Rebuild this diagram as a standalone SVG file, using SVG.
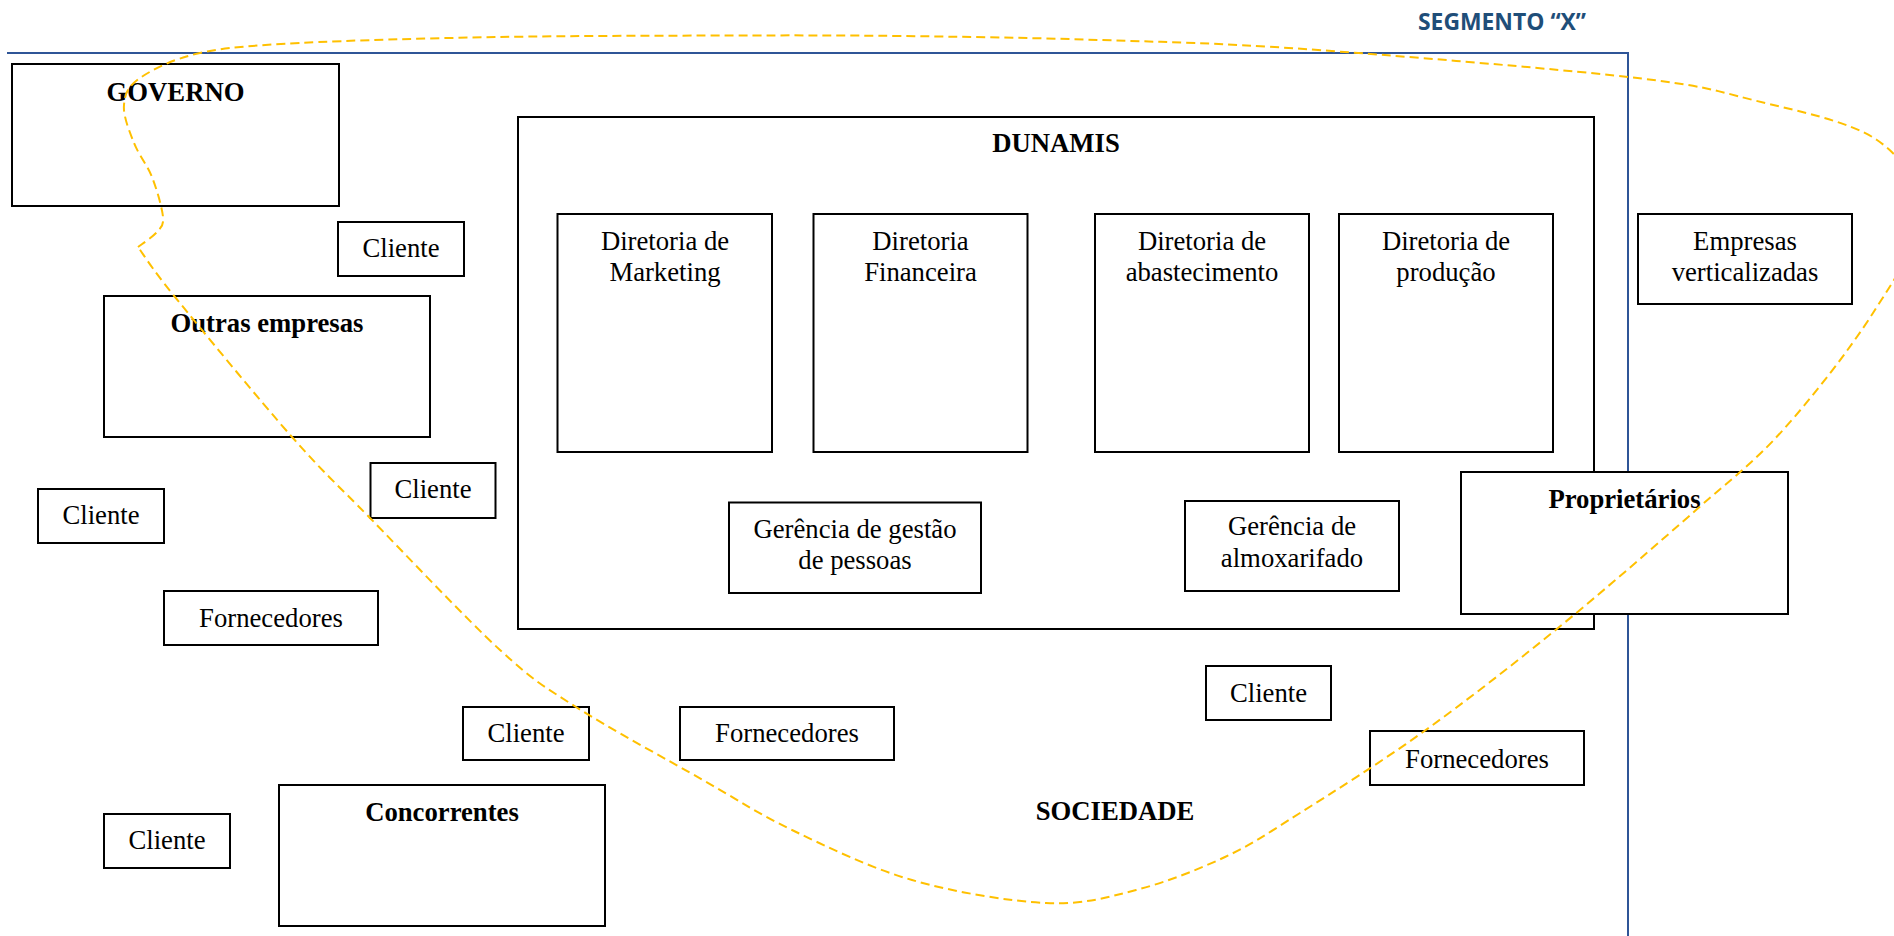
<svg xmlns="http://www.w3.org/2000/svg" width="1894" height="936" viewBox="0 0 1894 936">
  <style>
    .box { fill: #ffffff; stroke: #000000; stroke-width: 2; }
    .t { font-family: "Liberation Serif", "Times New Roman", serif; font-size: 26.7px; fill: #000000; text-anchor: middle; }
    .b { font-weight: bold; }
    .frame { fill: none; stroke: #2F5597; stroke-width: 2; }
    .seg-label { font-family: "Open Sans", "Liberation Sans", sans-serif; font-weight: bold; font-size: 23px; fill: #1F4E79; }
    .boundary { fill: none; stroke: #FFC000; stroke-width: 2; stroke-dasharray: 9 5; }
  </style>

  <rect width="1894" height="936" fill="#ffffff"/>

  <!-- segment frame -->
  <g id="segment-frame">
    <path class="frame" d="M7 53 H1628 V936"/>
    <text class="seg-label" x="1418" y="29.5" textLength="168" lengthAdjust="spacingAndGlyphs">SEGMENTO “X”</text>
  </g>

  <!-- company -->
  <g id="dunamis">
    <rect class="box" x="518" y="117" width="1076" height="512"/>
    <text class="t b" x="1056" y="152">DUNAMIS</text>
  </g>
  <g id="dir-marketing">
    <rect class="box" x="557.5" y="214" width="214.5" height="238"/>
    <text class="t" x="665" y="250">Diretoria de</text>
    <text class="t" x="665" y="281">Marketing</text>
  </g>
  <g id="dir-financeira">
    <rect class="box" x="813.5" y="214" width="214" height="238"/>
    <text class="t" x="920.5" y="250">Diretoria</text>
    <text class="t" x="920.5" y="281">Financeira</text>
  </g>
  <g id="dir-abastecimento">
    <rect class="box" x="1095" y="214" width="214" height="238"/>
    <text class="t" x="1202" y="250">Diretoria de</text>
    <text class="t" x="1202" y="281">abastecimento</text>
  </g>
  <g id="dir-producao">
    <rect class="box" x="1339" y="214" width="214" height="238"/>
    <text class="t" x="1446" y="250">Diretoria de</text>
    <text class="t" x="1446" y="281">produção</text>
  </g>
  <g id="ger-pessoas">
    <rect class="box" x="729" y="502.5" width="252" height="90.5"/>
    <text class="t" x="855" y="537.5">Gerência de gestão</text>
    <text class="t" x="855" y="568.5">de pessoas</text>
  </g>
  <g id="ger-almoxarifado">
    <rect class="box" x="1185" y="501" width="214" height="90"/>
    <text class="t" x="1292" y="535">Gerência de</text>
    <text class="t" x="1292" y="567">almoxarifado</text>
  </g>

  <!-- environment -->
  <g id="governo">
    <rect class="box" x="12" y="64" width="327" height="142"/>
    <text class="t b" x="175.5" y="101">GOVERNO</text>
  </g>
  <g id="cliente-1">
    <rect class="box" x="338" y="222" width="126" height="54"/>
    <text class="t" x="401" y="257">Cliente</text>
  </g>
  <g id="outras-empresas">
    <rect class="box" x="104" y="296" width="326" height="141"/>
    <text class="t b" x="267" y="332">Outras empresas</text>
  </g>
  <g id="cliente-2">
    <rect class="box" x="370.5" y="463" width="125" height="55"/>
    <text class="t" x="433" y="498">Cliente</text>
  </g>
  <g id="cliente-3">
    <rect class="box" x="38" y="489" width="126" height="54"/>
    <text class="t" x="101" y="524">Cliente</text>
  </g>
  <g id="fornecedores-1">
    <rect class="box" x="164" y="591" width="214" height="54"/>
    <text class="t" x="271" y="627">Fornecedores</text>
  </g>
  <g id="cliente-4">
    <rect class="box" x="463" y="707" width="126" height="53"/>
    <text class="t" x="526" y="742">Cliente</text>
  </g>
  <g id="fornecedores-2">
    <rect class="box" x="680" y="707" width="214" height="53"/>
    <text class="t" x="787" y="742">Fornecedores</text>
  </g>
  <g id="cliente-5">
    <rect class="box" x="104" y="814" width="126" height="54"/>
    <text class="t" x="167" y="849">Cliente</text>
  </g>
  <g id="concorrentes">
    <rect class="box" x="279" y="785" width="326" height="141"/>
    <text class="t b" x="442" y="821">Concorrentes</text>
  </g>
  <g id="cliente-6">
    <rect class="box" x="1206" y="666" width="125" height="54"/>
    <text class="t" x="1268.5" y="702">Cliente</text>
  </g>
  <g id="fornecedores-3">
    <rect class="box" x="1370" y="731" width="214" height="54"/>
    <text class="t" x="1477" y="768">Fornecedores</text>
  </g>
  <g id="empresas-verticalizadas">
    <rect class="box" x="1638" y="214" width="214" height="90"/>
    <text class="t" x="1745" y="250">Empresas</text>
    <text class="t" x="1745" y="281">verticalizadas</text>
  </g>
  <g id="proprietarios">
    <rect class="box" x="1461" y="472" width="327" height="142"/>
    <text class="t b" x="1624.5" y="508">Proprietários</text>
  </g>
  <g id="sociedade">
    <text class="t b" x="1115" y="820">SOCIEDADE</text>
  </g>

  <!-- dashed boundary of segment X -->
  <g id="connectors">
    <path class="boundary" d="M138 247
      C141.2 244.5 152.8 237 157 232
      C161.2 227 163.8 226.2 163 217
      C162.2 207.8 156.8 189.3 152 177
      C147.2 164.7 138.7 155 134 143
      C129.3 131 123 115.8 124 105
      C125 94.2 127.3 86.7 140 78
      C152.7 69.3 173.3 58.8 200 53
      C226.7 47.2 250 45.7 300 43
      C350 40.3 428.3 38.25 500 37
      C571.7 35.75 663.3 35.7 730 35.5
      C796.7 35.3 838.3 35.25 900 36
      C961.7 36.75 1032.7 37.8 1100 40
      C1167.3 42.2 1216 42.8 1304 49
      C1392 55.2 1553.2 68.5 1628 77
      C1702.8 85.5 1711.5 89.5 1753 100
      C1794.5 110.5 1849.2 120.8 1877 140
      C1904.8 159.2 1920.7 186.2 1920 215
      C1919.3 243.8 1895.8 277.2 1873 313
      C1850.2 348.8 1812.5 397.2 1783 430
      C1753.5 462.8 1733.5 477 1696 510
      C1658.5 543 1603.5 591 1558 628
      C1512.5 665 1466 701.2 1423 732
      C1380 762.8 1333 792.2 1300 813
      C1267 833.8 1252.3 844.2 1225 857
      C1197.7 869.8 1165.8 882.3 1136 890
      C1106.2 897.7 1083.3 904.7 1046 903
      C1008.7 901.3 954.3 892.2 912 880
      C869.7 867.8 826.8 846.7 792 830
      C757.2 813.3 739 800.5 703 780
      C667 759.5 609.8 728.7 576 707
      C542.2 685.3 534.3 681.5 500 650
      C465.7 618.5 404.7 553.5 370 518
      C335.3 482.5 324.5 473.8 292 437
      C259.5 400.2 200.7 328.7 175 297
      C149.3 265.3 144.2 255.3 138 247"/>
  </g>
</svg>
